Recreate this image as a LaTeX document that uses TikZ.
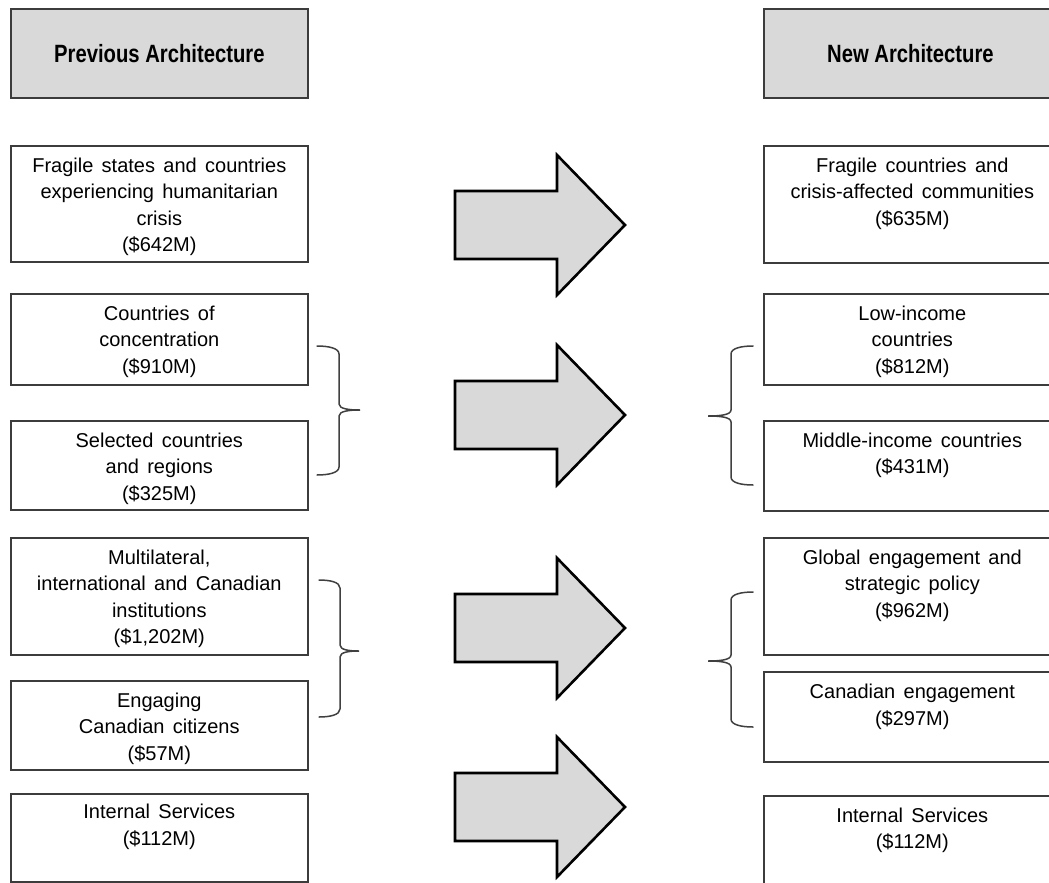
\documentclass[tikz,border=0pt]{standalone}
\usepackage{fontspec}
\setmainfont{Liberation Sans}[WordSpace=1.5]
\newfontfamily\headfont{Liberation Sans}
\definecolor{boxline}{HTML}{3C3C3C}
\definecolor{headfill}{HTML}{D9D9D9}
\definecolor{braceline}{HTML}{404040}
\newcommand\drawbrace[6]{%
  \draw[brace] (#1,#4) .. controls ({0.5*#1+0.5*#2},#4) and (#2,{#4+2}) .. (#2,{#4+8})
    -- (#2,{#5-6}) .. controls (#2,{#5-1}) and ({0.5*#2+0.5*#3},#5) .. (#3,#5)
    .. controls ({0.5*#2+0.5*#3},#5) and (#2,{#5+1}) .. (#2,{#5+6})
    -- (#2,{#6-8}) .. controls (#2,{#6-2}) and ({0.5*#1+0.5*#2},#6) .. (#1,#6);}
\begin{document}
\begin{tikzpicture}[x=1pt,y=-1pt,
  box/.style={draw=boxline, line width=1.6pt, anchor=north west, minimum width=297pt, inner sep=0pt},
  head/.style={draw=boxline, fill=headfill, line width=1.8pt, anchor=north west, minimum width=297pt, minimum height=89pt, inner sep=0pt},
  txt/.style={align=center, anchor=north, inner sep=0pt, font=\fontsize{20}{26.5}\selectfont},
  htxt/.style={anchor=base, inner sep=0pt},
  bigarrow/.style={draw=black, fill=headfill, line width=2.6pt, line join=miter},
  brace/.style={draw=braceline, line width=1.5pt, line cap=round}]
\useasboundingbox (0,0) rectangle (1049,883);
\clip (0,0) rectangle (1049,883);
\fill[white] (0,0) rectangle (1049,883);

% headers
\node[head] (lh) at (10,8) {};
\node[htxt] (lht) at ([yshift=-9pt]lh.center) {\scalebox{0.81}[1]{\headfont\fontsize{25}{30}\selectfont\bfseries Previous Architecture}};
\node[head] (rh) at (763,8) {};
\node[htxt] (rht) at ([xshift=-2pt,yshift=-9pt]rh.center) {\scalebox{0.81}[1]{\headfont\fontsize{25}{30}\selectfont\bfseries New Architecture}};

% left boxes
\node[box, minimum height=116pt] (l1) at (10,145) {};
\node[txt] (l1t) at ([yshift=-12.4pt]l1.north) {Fragile states and countries\\experiencing humanitarian\\crisis\\(\$642M)};
\node[box, minimum height=91pt] (l2) at (10,293) {};
\node[txt] (l2t) at ([yshift=-12.4pt]l2.north) {Countries of\\concentration\\(\$910M)};
\node[box, minimum height=89pt] (l3) at (10,420) {};
\node[txt] (l3t) at ([yshift=-12.4pt]l3.north) {Selected countries\\and regions\\(\$325M)};
\node[box, minimum height=117pt] (l4) at (10,537) {};
\node[txt] (l4t) at ([yshift=-12.4pt]l4.north) {Multilateral,\\international and Canadian\\institutions\\(\$1,202M)};
\node[box, minimum height=89pt] (l5) at (10,680) {};
\node[txt] (l5t) at ([yshift=-12.4pt]l5.north) {Engaging\\Canadian citizens\\(\$57M)};
\node[box, minimum height=88pt] (l6) at (10,793) {};
\node[txt] (l6t) at ([yshift=-11pt]l6.north) {Internal Services\\(\$112M)};

% right boxes
\node[box, minimum height=117pt] (r1) at (763,145) {};
\node[txt] (r1t) at ([yshift=-12.4pt]r1.north) {Fragile countries and\\crisis-affected communities\\(\$635M)};
\node[box, minimum height=91pt] (r2) at (763,293) {};
\node[txt] (r2t) at ([yshift=-12.4pt]r2.north) {Low-income\\countries\\(\$812M)};
\node[box, minimum height=90pt] (r3) at (763,420) {};
\node[txt] (r3t) at ([yshift=-12.4pt]r3.north) {Middle-income countries\\(\$431M)};
\node[box, minimum height=117pt] (r4) at (763,537) {};
\node[txt] (r4t) at ([yshift=-12.4pt]r4.north) {Global engagement and\\strategic policy\\(\$962M)};
\node[box, minimum height=90pt] (r5) at (763,671) {};
\node[txt] (r5t) at ([yshift=-13pt]r5.north) {Canadian engagement\\(\$297M)};
\node[box, minimum height=100pt] (r6) at (763,795) {};
\node[txt] (r6t) at ([yshift=-12.4pt]r6.north) {Internal Services\\(\$112M)};

% big arrows
\foreach \cy in {225,415,628,807}{
  \draw[bigarrow] (455,{\cy-34}) -- (557,{\cy-34}) -- (557,{\cy-70}) -- (625,\cy)
    -- (557,{\cy+70}) -- (557,{\cy+34}) -- (455,{\cy+34}) -- cycle;
}

% braces
\drawbrace{317}{339}{360}{346}{410}{475}
\drawbrace{319}{340}{359}{580}{651}{717}
\drawbrace{753}{731}{708}{346}{416}{485}
\drawbrace{753}{731}{708}{592}{661}{727}
\end{tikzpicture}
\end{document}
